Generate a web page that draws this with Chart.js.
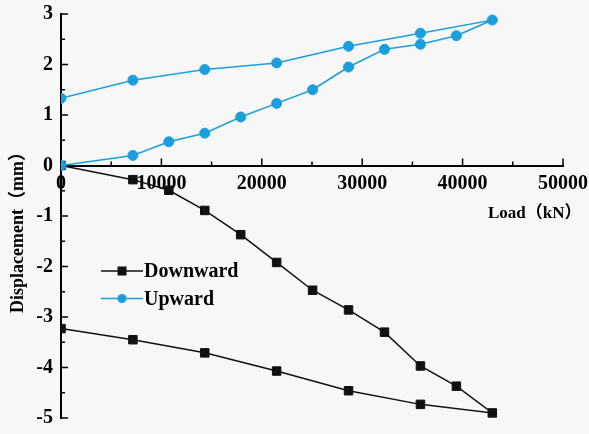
<!DOCTYPE html>
<html>
<head>
<meta charset="utf-8">
<script src="https://cdn.jsdelivr.net/npm/chart.js"></script>
<style>
    body { margin: 0; background: #f7f7f7; }
    canvas { display: block; }
</style>
</head>
<body>
<canvas id="canvasChart" width="589" height="434"></canvas>
<script>
// charge en kN : montée jusqu'au max puis décharge
const loads = [0, 7160, 10740, 14320, 17900, 21480, 25060, 28640, 32220, 35800, 39380, 42960, 35800, 28640, 21480, 14320, 7160, 0]
const downward = [0, -0.28, -0.49, -0.89, -1.37, -1.92, -2.47, -2.86, -3.30, -3.97, -4.37, -4.90, -4.73, -4.46, -4.07, -3.71, -3.45, -3.23]
const upward = [0, 0.20, 0.47, 0.64, 0.96, 1.23, 1.50, 1.95, 2.30, 2.40, 2.57, 2.88, 2.62, 2.36, 2.03, 1.90, 1.69, 1.33]
const seriesNames = ["Downward", "Upward"]
const xTicks = [0, 10000, 20000, 30000, 40000, 50000]
const yTicks = [-5, -4, -3, -2, -1, 0, 1, 2, 3]
const xTitle = "Load（kN）"
const yTitle = "Displacement（mm）"

const FONT = "'Liberation Serif', 'Noto Sans CJK SC', serif"
const BLUE = "#1a9fdc"
const BLACK = "#111111"

function toPoints(values) {
    return loads.map((x, i) => ({x: x, y: values[i]}))
}

function setTicks(list) {
    return (scale) => { scale.ticks = list.map(v => ({value: v})) }
}

// petits traits vers l'intérieur + titres + légende dans le graphe
const decor = {
    id: "decor",
    beforeDatasetsDraw(chart) {
        let ctx = chart.ctx
        let sx = chart.scales.x
        let sy = chart.scales.y
        let y0 = sy.getPixelForValue(0)
        let x0 = chart.chartArea.left
        ctx.save()
        ctx.strokeStyle = "#000"
        ctx.lineWidth = 1.5
        ctx.beginPath()
        for (let i = 0; i < xTicks.length; i++) {
            let px = sx.getPixelForValue(xTicks[i])
            ctx.moveTo(px, y0)
            ctx.lineTo(px, y0 - 7)
            if (i < xTicks.length - 1) {
                let pm = sx.getPixelForValue((xTicks[i] + xTicks[i + 1]) / 2)
                ctx.moveTo(pm, y0)
                ctx.lineTo(pm, y0 - 4)
            }
        }
        for (let i = 0; i < yTicks.length; i++) {
            let py = sy.getPixelForValue(yTicks[i])
            ctx.moveTo(x0, py)
            ctx.lineTo(x0 + 7, py)
            if (i < yTicks.length - 1) {
                let pm = sy.getPixelForValue((yTicks[i] + yTicks[i + 1]) / 2)
                ctx.moveTo(x0, pm)
                ctx.lineTo(x0 + 4, pm)
            }
        }
        ctx.stroke()
        ctx.restore()
    },
    afterDraw(chart) {
        let ctx = chart.ctx
        let area = chart.chartArea
        ctx.save()
        ctx.fillStyle = "#000"
        ctx.font = "bold 17px " + FONT
        ctx.textBaseline = "middle"
        ctx.textAlign = "left"
        ctx.fillText(xTitle, 488, 214)

        ctx.font = "bold 18px " + FONT
        ctx.translate(18, 228)
        ctx.rotate(-Math.PI / 2)
        ctx.textAlign = "center"
        ctx.fillText(yTitle, 0, 0)
        ctx.restore()

        // légende
        ctx.save()
        ctx.font = "bold 20px " + FONT
        ctx.textBaseline = "middle"
        ctx.textAlign = "left"
        chart.data.datasets.forEach((ds, i) => {
            let ly = area.top + 257 + i * 27.5
            let lx = area.left + 40
            ctx.strokeStyle = ds.borderColor
            ctx.lineWidth = 1.5
            ctx.beginPath()
            ctx.moveTo(lx, ly)
            ctx.lineTo(lx + 42, ly)
            ctx.stroke()
            ctx.fillStyle = ds.borderColor
            if (ds.pointStyle === "rect") {
                ctx.fillRect(lx + 21 - 4.5, ly - 4.5, 9, 9)
            } else {
                ctx.beginPath()
                ctx.arc(lx + 21, ly, 4.5, 0, Math.PI * 2)
                ctx.fill()
            }
            ctx.fillStyle = "#000"
            ctx.fillText(ds.label, lx + 43, ly + 1)
        })
        ctx.restore()
    }
}

function creerChart() {
    let canvas = document.getElementById("canvasChart")
    new Chart(canvas, {
        type: "line",
        data: {
            datasets: [
                {
                    label: seriesNames[0],
                    data: toPoints(downward),
                    borderColor: BLACK,
                    backgroundColor: BLACK,
                    borderWidth: 1.5,
                    pointStyle: "rect",
                    pointRadius: 6,
                    pointBorderWidth: 1,
                    order: 1
                },
                {
                    label: seriesNames[1],
                    data: toPoints(upward),
                    borderColor: BLUE,
                    backgroundColor: BLUE,
                    borderWidth: 1.5,
                    pointStyle: "circle",
                    pointRadius: 5,
                    pointBorderWidth: 1,
                    order: 0
                }
            ]
        },
        options: {
            responsive: false,
            animation: false,
            devicePixelRatio: 1,
            layout: {
                padding: {left: 0, top: 14, right: 26, bottom: 16}
            },
            plugins: {
                legend: {display: false},
                tooltip: {enabled: false}
            },
            scales: {
                x: {
                    type: "linear",
                    position: {y: 0},
                    min: 0,
                    max: 50000,
                    afterBuildTicks: setTicks(xTicks),
                    afterFit: (scale) => { scale.paddingLeft = 0; scale.paddingRight = 0; scale.paddingTop = 0; scale.paddingBottom = 0 },
                    grid: {drawOnChartArea: false, drawTicks: false},
                    border: {color: "#000", width: 2},
                    ticks: {
                        color: "#000",
                        padding: 6,
                        font: {family: FONT, size: 20, weight: "bold"},
                        callback: (v) => String(v)
                    }
                },
                y: {
                    type: "linear",
                    position: "left",
                    min: -5,
                    max: 3,
                    afterBuildTicks: setTicks(yTicks),
                    afterFit: (scale) => { scale.width = 61; scale.paddingTop = 0; scale.paddingBottom = 0 },
                    grid: {drawOnChartArea: false, drawTicks: false},
                    border: {color: "#000", width: 2},
                    ticks: {
                        color: "#000",
                        padding: 8,
                        font: {family: FONT, size: 20, weight: "bold"},
                        callback: (v) => String(v)
                    }
                }
            }
        },
        plugins: [decor]
    })
}

creerChart()
</script>
</body>
</html>
